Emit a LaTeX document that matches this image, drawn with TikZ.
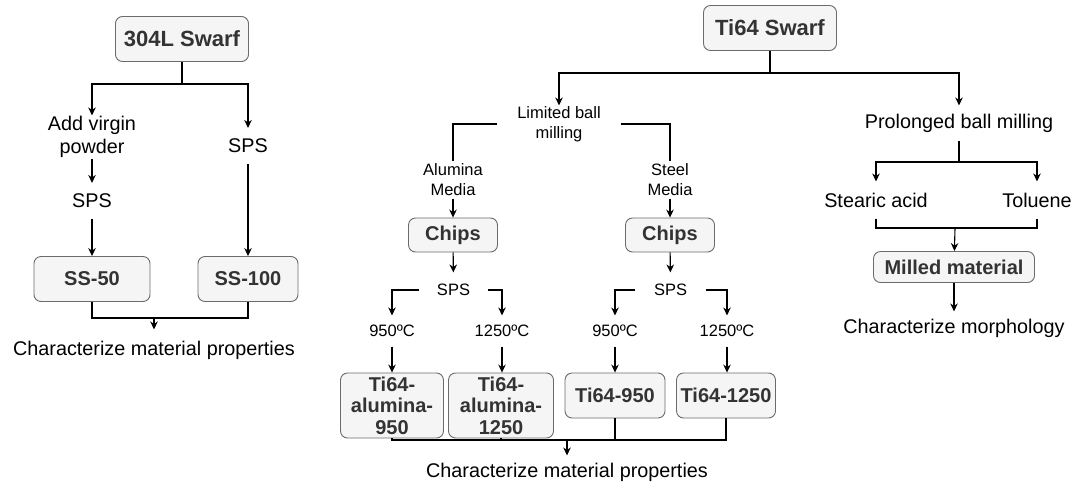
\documentclass[tikz,border=0pt]{standalone}
\usepackage{fontspec}
\setmainfont{Liberation Sans}
\usepackage{xcolor}
\usepackage{tikz}
\usetikzlibrary{arrows.meta, positioning}

\definecolor{boxfill}{HTML}{F5F5F5}
\definecolor{boxline}{HTML}{6B6B6B}
\definecolor{boxtext}{HTML}{333333}

\begin{document}
\begin{tikzpicture}[x=1pt, y=-1pt, >={Stealth[length=8pt, width=7.5pt]}, line width=1.1pt,
    box/.style={draw=boxline, fill=boxfill, rounded corners=7pt, line width=0.9pt,
        text=boxtext, font=\fontsize{20}{21.5}\selectfont\bfseries, align=center, inner sep=0pt},
    bigbox/.style={box, font=\fontsize{22}{24}\selectfont\bfseries},
    label/.style={font=\fontsize{19.8}{23}\selectfont, align=center, inner sep=0pt},
    smalllabel/.style={font=\fontsize{16.5}{20}\selectfont, align=center, inner sep=0pt}]

    \useasboundingbox (0,0) rectangle (1075,490);

    % 304L branch
    \node[bigbox, minimum width=133, minimum height=45] (swarfA) at (182,39) {304L Swarf};
    \node[label, minimum height=42] (addv) at (92,137) {Add virgin\\powder};
    \node[label, minimum height=35] (spsR) at (248,146) {SPS};
    \node[label, minimum height=35] (spsL) at (92,201) {SPS};
    \node[box, minimum width=116, minimum height=45] (ss50) at (92,279) {SS-50};
    \node[box, minimum width=100, minimum height=45] (ss100) at (248,279) {SS-100};
    \node[label, minimum height=40] (charA) at (154,350) {Characterize material properties};
    \coordinate (jA) at (182,84);
    \coordinate (jB) at (154,318);

    \draw (swarfA) -- (jA);
    \draw[->] (jA) -| (addv);
    \draw[->] (jA) -| (spsR);
    \draw[->] (addv) -- (spsL);
    \draw[->] (spsL) -- (ss50);
    \draw[->] (spsR) -- (ss100);
    \draw (ss50) |- (jB);
    \draw (ss100) |- (jB);
    \draw[->] (jB) -- (charA);

    % Ti64 branch
    \node[bigbox, minimum width=133, minimum height=45] (swarfB) at (770,28) {Ti64 Swarf};
    \coordinate (jT) at (770,73);
    \node[smalllabel, minimum width=122, minimum height=36] (limited) at (559,124) {Limited ball\\milling};
    \node[label, minimum height=34] (prolonged) at (959,123) {Prolonged ball milling};

    \draw (swarfB) -- (jT);
    \draw[->] (jT) -| (limited);
    \draw[->] (jT) -| (prolonged);

    % limited ball milling
    \node[smalllabel, minimum height=36] (alumina) at (453,180) {Alumina\\Media};
    \node[smalllabel, minimum height=36] (steel) at (670,180) {Steel\\Media};
    \node[box, minimum width=89, minimum height=34] (chipsA) at (453,235) {Chips};
    \node[box, minimum width=89, minimum height=34] (chipsS) at (670,235) {Chips};
    \node[smalllabel, minimum width=67, minimum height=34] (spsA) at (453.5,290) {SPS};
    \node[smalllabel, minimum width=69, minimum height=34] (spsS) at (670.5,290) {SPS};

    \draw (limited.west) -| (alumina);
    \draw (limited.east) -| (steel);
    \draw[->] (alumina) -- (chipsA);
    \draw[->] (steel) -- (chipsS);
    \draw[->] (chipsA) -- (spsA);
    \draw[->] (chipsS) -- (spsS);

    \node[smalllabel, minimum height=30] (tA950) at (392,331) {950ºC};
    \node[smalllabel, minimum height=30] (tA1250) at (502,331) {1250ºC};
    \node[smalllabel, minimum height=30] (tS950) at (615,331) {950ºC};
    \node[smalllabel, minimum height=30] (tS1250) at (727,331) {1250ºC};

    \draw[->] (spsA.west) -| (tA950);
    \draw[->] (spsA.east) -| (tA1250);
    \draw[->] (spsS.west) -| (tS950);
    \draw[->] (spsS.east) -| (tS1250);

    \node[box, minimum width=103, minimum height=65] (ba950) at (392,405.5) {Ti64-\\alumina-\\950};
    \node[box, minimum width=105, minimum height=65] (ba1250) at (501,405.5) {Ti64-\\alumina-\\1250};
    \node[box, minimum width=100, minimum height=45] (bs950) at (615,395.5) {Ti64-950};
    \node[box, minimum width=99, minimum height=45] (bs1250) at (726,395.5) {Ti64-1250};

    \draw[->] (tA950) -- (ba950);
    \draw[->] (tA1250) -- (tA1250 |- ba1250.north);
    \draw[->] (tS950) -- (bs950);
    \draw[->] (tS1250) -- (tS1250 |- bs1250.north);

    \coordinate (jM) at (567,440);
    \node[label, minimum height=32] (charB) at (567,472) {Characterize material properties};
    \draw (ba950) |- (jM);
    \draw (ba1250) |- (jM);
    \draw (bs950) |- (jM);
    \draw (bs1250) |- (jM);
    \draw[->] (jM) -- (charB);

    % prolonged ball milling
    \coordinate (jC) at (959,162);
    \node[label, minimum height=36] (stearic) at (876,200) {Stearic acid};
    \node[label, minimum height=36] (toluene) at (1037,200) {Toluene};
    \coordinate (jD) at (955,228);
    \node[box, minimum width=161, minimum height=31] (milled) at (954,267) {Milled material};
    \node[label, minimum height=32] (morph) at (954,328) {Characterize morphology};

    \draw (prolonged) -- (jC);
    \draw[->] (jC) -| (stearic);
    \draw[->] (jC) -| (toluene);
    \draw (stearic) |- (jD);
    \draw (toluene) |- (jD);
    \draw[->] (jD) -- (milled);
    \draw[->] (milled) -- (morph);
\end{tikzpicture}
\end{document}
